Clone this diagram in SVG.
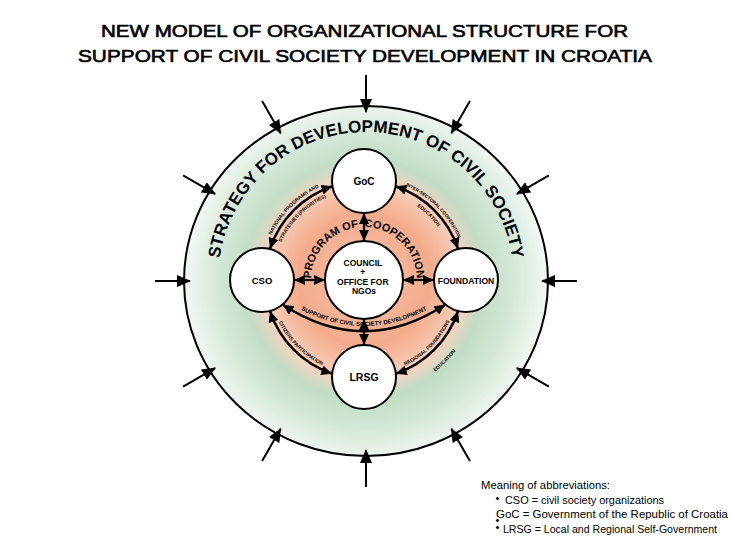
<svg xmlns="http://www.w3.org/2000/svg" width="735" height="555" viewBox="0 0 735 555">
<defs>
  <style>
    .t{font-family:"Liberation Sans",Arial,sans-serif;font-weight:bold;fill:#000}
    .title{font-family:"Liberation Sans",Arial,sans-serif;font-size:17px;font-weight:normal;fill:#000;stroke:#000;stroke-width:0.6}
    .leg{font-family:"Liberation Sans",Arial,sans-serif;font-size:11px;fill:#000}
    .node{fill:#fff;stroke:#000;stroke-width:2}
    .ring{fill:url(#gGreen);stroke:#000;stroke-width:2}
    .out{stroke:#000;stroke-width:2;fill:none;marker-end:url(#ah)}
    .dbl{stroke:#000;stroke-width:2.2;fill:none;marker-start:url(#ah2);marker-end:url(#ah2)}
    .arc{stroke:#000;stroke-width:2.6;fill:none;marker-start:url(#ah2);marker-end:url(#ah2)}
    .tiny{font-size:5px}
  </style>
  <radialGradient id="gGreen" cx="366" cy="281" r="182" gradientUnits="userSpaceOnUse">
    <stop offset="0" stop-color="#b3d4b8"/>
    <stop offset="0.6" stop-color="#bcd9c0"/>
    <stop offset="0.8" stop-color="#d3e7d6"/>
    <stop offset="1" stop-color="#f3f8f3"/>
  </radialGradient>
  <radialGradient id="gOrange" cx="364" cy="280" r="120" gradientUnits="userSpaceOnUse">
    <stop offset="0" stop-color="#f7c6b0"/>
    <stop offset="0.35" stop-color="#f4b397"/>
    <stop offset="0.55" stop-color="#f3ab8c"/>
    <stop offset="0.72" stop-color="#f6c0a7"/>
    <stop offset="0.84" stop-color="#f9d2c0" stop-opacity="0.95"/>
    <stop offset="1" stop-color="#f0dccf" stop-opacity="0"/>
  </radialGradient>
  <marker id="ah" viewBox="0 0 14 12" refX="13" refY="6" markerWidth="14" markerHeight="12" markerUnits="userSpaceOnUse" orient="auto">
    <path d="M0,0 L14,6 L0,12 z" fill="#000"/>
  </marker>
  <marker id="ah2" viewBox="0 0 11 10" refX="11" refY="5" markerWidth="11" markerHeight="10" markerUnits="userSpaceOnUse" orient="auto-start-reverse">
    <path d="M0,0 L11,5 L0,10 z" fill="#000"/>
  </marker>
  <path id="pStrategy" d="M226.9,330.6 A148,148 0 1,1 505.1,330.6"/>
  <path id="pProgram" d="M311.8,289.2 A53,53 0 1,1 416.2,289.2"/>
  <path id="pSupport" d="M284,300 Q364,352 444,300"/>
  <path id="pTlOut" d="M268.5,241.4 A103,103 0 0,1 325.4,184.5"/>
  <path id="pTlIn" d="M278.5,248.9 A91,91 0 0,1 332.9,194.5"/>
  <path id="pTrOut" d="M402.6,184.5 A103,103 0 0,1 459.5,241.4"/>
  <path id="pTrIn" d="M395.1,194.5 A92,92 0 0,1 449.5,248.9"/>
  <path id="pBl" d="M274.7,312.5 A95,95 0 0,0 331.5,369.3"/>
  <path id="pBrIn" d="M396.5,369.3 A95,95 0 0,0 453.3,312.5"/>
  <path id="pBrOut" d="M413,385.1 A116,116 0 0,0 469.1,329"/>
</defs>

<g id="title">
  <text class="title" x="364.5" y="37" text-anchor="middle" textLength="527" lengthAdjust="spacingAndGlyphs">NEW MODEL OF ORGANIZATIONAL STRUCTURE FOR</text>
  <text class="title" x="365" y="62" text-anchor="middle" textLength="574" lengthAdjust="spacingAndGlyphs">SUPPORT OF CIVIL SOCIETY DEVELOPMENT IN CROATIA</text>
</g>

<g id="strategy">
  <ellipse class="ring" cx="366" cy="281" rx="182" ry="175"/>
  <circle cx="364" cy="280" r="120" fill="url(#gOrange)"/>
  <text class="t" font-size="17" text-anchor="middle"><textPath href="#pStrategy" startOffset="50%">STRATEGY FOR DEVELOPMENT OF CIVIL SOCIETY</textPath></text>
</g>

<g id="program">
  <text class="t" font-size="11" text-anchor="middle"><textPath href="#pProgram" startOffset="50%">PROGRAM OF<tspan dx="6">COOPERATION</tspan></textPath></text>
</g>

<g id="connectors">
  <line class="out" x1="366" y1="75" x2="366" y2="112"/>
  <line class="out" x1="262.1" y1="101.1" x2="280.6" y2="133.2"/>
  <line class="out" x1="183.1" y1="175.4" x2="215.1" y2="193.9"/>
  <line class="out" x1="155" y1="281" x2="190" y2="281"/>
  <line class="out" x1="183.1" y1="386.6" x2="215.1" y2="368.1"/>
  <line class="out" x1="262.1" y1="460.9" x2="280.6" y2="428.8"/>
  <line class="out" x1="366" y1="487" x2="366" y2="450"/>
  <line class="out" x1="469.9" y1="460.9" x2="451.4" y2="428.8"/>
  <line class="out" x1="548.9" y1="386.6" x2="516.9" y2="368.1"/>
  <line class="out" x1="577" y1="281" x2="542" y2="281"/>
  <line class="out" x1="548.9" y1="175.4" x2="516.9" y2="193.9"/>
  <line class="out" x1="469.9" y1="101.1" x2="451.4" y2="133.2"/>
  <path class="arc" d="M270,248.9 A99,99 0 0,1 332.4,186.2"/>
  <path class="arc" d="M395.6,186.2 A99,99 0 0,1 458,248.9"/>
  <path class="arc" d="M458,311.1 A99,99 0 0,1 395.9,373.7"/>
  <path class="arc" d="M332.1,373.7 A99,99 0 0,1 270,311.1"/>
  <path class="arc" d="M282.6,304.5 Q364,358 445.4,304.5"/>
  <text class="t" font-size="6" text-anchor="middle"><textPath href="#pSupport" startOffset="50%">SUPPORT OF CIVIL SOCIETY DEVELOPMENT</textPath></text>
  <text class="t tiny" text-anchor="middle"><textPath href="#pTlOut" startOffset="50%">NATIONAL PROGRAMS AND</textPath></text>
  <text class="t tiny" text-anchor="middle"><textPath href="#pTlIn" startOffset="50%">STRATEGIES (PRIORITIES)</textPath></text>
  <text class="t" font-size="4.6" text-anchor="middle"><textPath href="#pTrOut" startOffset="50%">INTER-SECTORAL COOPERATION</textPath></text>
  <text class="t tiny" text-anchor="middle"><textPath href="#pTrIn" startOffset="50%">EDUCATION</textPath></text>
  <text class="t tiny" text-anchor="middle"><textPath href="#pBl" startOffset="50%">CITIZENS PARTICIPATION</textPath></text>
  <text class="t tiny" text-anchor="middle"><textPath href="#pBrIn" startOffset="50%">REGIONAL FOUNDATIONS</textPath></text>
  <text class="t tiny" text-anchor="middle"><textPath href="#pBrOut" startOffset="50%">EDUCATION</textPath></text>
  <line class="dbl" x1="364" y1="213" x2="364" y2="241"/>
  <line class="dbl" x1="364" y1="319" x2="364" y2="345"/>
  <line class="dbl" x1="294" y1="280" x2="325" y2="280"/>
  <line class="dbl" x1="403" y1="280" x2="434" y2="280"/>
</g>

<g id="node-goc">
  <circle class="node" cx="364" cy="181" r="32"/>
  <text class="t" font-size="10" x="364" y="185" text-anchor="middle">GoC</text>
</g>
<g id="node-cso">
  <circle class="node" cx="262" cy="280" r="32"/>
  <text class="t" font-size="9.5" x="262" y="284" text-anchor="middle">CSO</text>
</g>
<g id="node-foundation">
  <circle class="node" cx="466" cy="280" r="32"/>
  <text class="t" font-size="8.6" x="466" y="283.5" text-anchor="middle">FOUNDATION</text>
</g>
<g id="node-lrsg">
  <circle class="node" cx="364" cy="377" r="32"/>
  <text class="t" font-size="10.5" x="364" y="381" text-anchor="middle">LRSG</text>
</g>
<g id="node-council">
  <circle class="node" cx="364" cy="280" r="39"/>
  <text class="t" font-size="8.5" text-anchor="middle">
    <tspan x="364" y="266">COUNCIL</tspan>
    <tspan x="364" y="275">+</tspan>
    <tspan x="364" y="285">OFFICE FOR</tspan>
    <tspan x="364" y="294">NGOs</tspan>
  </text>
</g>

<g id="legend">
  <text class="leg" x="481" y="489" textLength="129" lengthAdjust="spacingAndGlyphs">Meaning of abbreviations:</text>
  <text class="leg" font-size="6" x="495.5" y="502">•</text>
  <text class="leg" x="505" y="504" textLength="159" lengthAdjust="spacingAndGlyphs">CSO = civil society  organizations</text>
  <text class="leg" x="496" y="518" textLength="232" lengthAdjust="spacingAndGlyphs">GoC  = Government of the Republic of Croatia</text>
  <text class="leg" font-size="6" x="495.5" y="524">•</text>
  <text class="leg" font-size="6" x="495.5" y="531">•</text>
  <text class="leg" x="503" y="533" textLength="214" lengthAdjust="spacingAndGlyphs">LRSG = Local and Regional Self-Government</text>
</g>
</svg>
